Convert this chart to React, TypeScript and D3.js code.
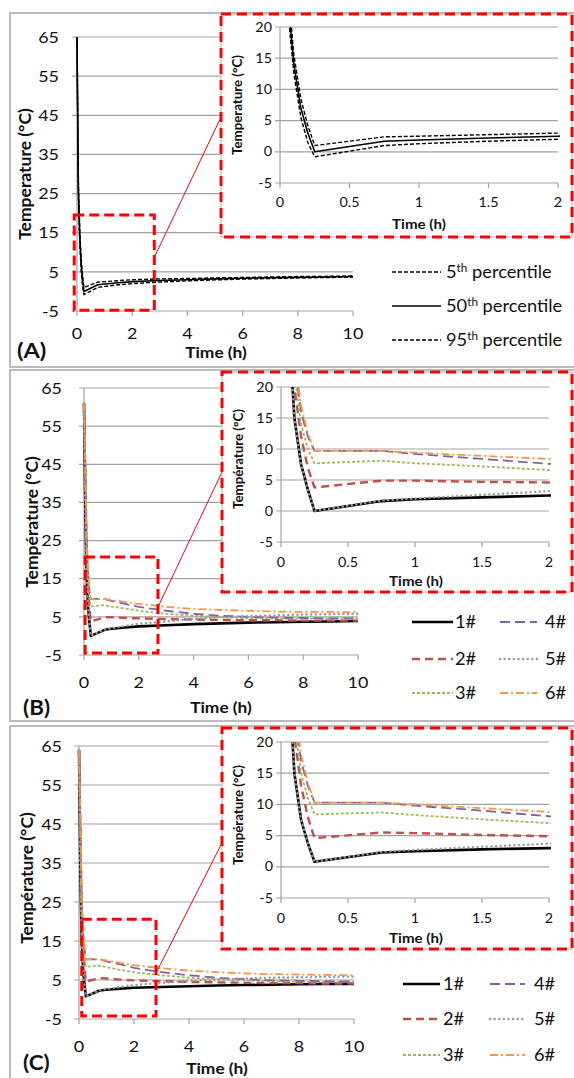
import React from "react";
import * as d3 from "d3";

// ---------- data ----------
const times = [0, 0.05, 0.1, 0.15, 0.2, 0.25, 0.75, 1, 1.5, 2, 3, 4, 5, 6, 7, 8, 9, 10];

const mainYTicks = [-5, 5, 15, 25, 35, 45, 55, 65];
const mainXTicks = [0, 2, 4, 6, 8, 10];
const insetYTicks = [-5, 0, 5, 10, 15, 20];
const insetXTicks = [0, 0.5, 1, 1.5, 2];

// Panel A: percentiles
const a5th = [64, 24, 12.5, 5.5, 1.5, -0.8, 1.0, 1.3, 1.7, 2.0, 2.4, 2.7, 2.95, 3.15, 3.3, 3.45, 3.55, 3.65];
const a50th = [65, 26, 14, 7, 3, 0, 1.7, 1.9, 2.2, 2.5, 2.8, 3.0, 3.2, 3.35, 3.5, 3.6, 3.7, 3.8];
const a95th = [65, 28, 15.5, 8.5, 4.2, 1.0, 2.4, 2.5, 2.75, 3.0, 3.2, 3.3, 3.45, 3.55, 3.7, 3.8, 3.85, 3.95];

// Panel B
const b1 = [61, 33, 15, 7.5, 3.5, 0, 1.6, 1.9, 2.2, 2.5, 2.8, 3.1, 3.3, 3.5, 3.6, 3.7, 3.8, 3.9];
const b2 = [61, 40, 20, 12, 7, 3.8, 4.9, 4.9, 4.7, 4.6, 4.4, 4.3, 4.2, 4.1, 4.1, 4.0, 4.0, 4.0];
const b3 = [60, 42, 22, 14, 10, 7.7, 8.1, 7.7, 7.2, 6.6, 5.8, 5.3, 4.9, 4.7, 4.6, 4.5, 4.5, 4.5];
const b4 = [61, 45, 24, 16, 12, 9.7, 9.7, 9.2, 8.4, 7.6, 6.6, 5.8, 5.3, 5.0, 4.8, 4.7, 4.6, 4.6];
const b5 = [61, 33, 15, 7.5, 3.5, 0, 1.7, 2.0, 2.6, 3.2, 3.8, 4.4, 4.9, 5.2, 5.4, 5.6, 5.7, 5.8];
const b6 = [61, 46, 25, 17, 12.5, 9.7, 9.7, 9.4, 8.9, 8.4, 7.6, 7.1, 6.8, 6.6, 6.4, 6.3, 6.3, 6.2];

// Panel C
const c1 = [64, 33, 15, 7.5, 3.8, 0.8, 2.3, 2.5, 2.8, 3.0, 3.2, 3.4, 3.6, 3.7, 3.8, 3.9, 4.0, 4.0];
const c2 = [64, 41, 21, 13, 8, 4.6, 5.5, 5.4, 5.1, 4.9, 4.7, 4.5, 4.4, 4.3, 4.2, 4.2, 4.1, 4.1];
const c3 = [63, 43, 23, 15, 11, 8.4, 8.7, 8.3, 7.6, 7.0, 6.2, 5.6, 5.2, 4.9, 4.7, 4.6, 4.5, 4.5];
const c4 = [64, 46, 25, 17, 13, 10.3, 10.3, 9.8, 9.0, 8.1, 7.0, 6.2, 5.6, 5.2, 4.9, 4.8, 4.7, 4.6];
const c5 = [64, 33, 15, 7.5, 3.8, 0.8, 2.4, 2.7, 3.2, 3.7, 4.3, 4.8, 5.1, 5.4, 5.6, 5.7, 5.8, 5.9];
const c6 = [64, 47, 26, 18, 13.5, 10.3, 10.3, 10.0, 9.4, 8.8, 8.0, 7.4, 7.0, 6.7, 6.5, 6.4, 6.3, 6.2];

const percentileNames = ["5", "50", "95"];
const caseNames = ["1#", "2#", "3#", "4#", "5#", "6#"];

// ---------- styles ----------
const FONT = "Lato, Carlito, 'Open Sans', sans-serif";
const GRID = "#a3a3a3";
const RED = "#ff0000";
const SX = 1.12;

type St = { color: string; width: number; dash?: string; cap?: string };
const pctStyles: St[] = [
  { color: "#000", width: 1.4, dash: "4,2" },
  { color: "#000", width: 1.6 },
  { color: "#000", width: 1.4, dash: "4,2" },
];
const caseStyles: St[] = [
  { color: "#000000", width: 2.6 },
  { color: "#C0504D", width: 2.4, dash: "8,5" },
  { color: "#9BBB59", width: 1.8, dash: "3,2" },
  { color: "#8064A2", width: 1.8, dash: "10,5" },
  { color: "#9a9a9a", width: 2.4, dash: "0.1,4.5", cap: "round" },
  { color: "#F79646", width: 1.8, dash: "8,3,2,3" },
];

type Layout = {
  id: string;
  border: [number, number, number, number];
  mx0: number; mx1: number; myTop: number; myBot: number; yLabGap: number;
  xLabY: number; xTitleX: number; xTitleY: number; yTitleX: number; yTitleY: number;
  zoom: [number, number, number, number];
  conn: [number, number, number, number];
  box: [number, number, number, number];
  ix0: number; ix1: number; iyTop: number; iyBot: number;
  ixLabY: number; ixTitleY: number; ixTitleX: number; iyTitleX: number; iyTitleY: number;
  tag: string; tagX: number; tagY: number; tagSize: number;
};

const layouts: Layout[] = [
  {
    id: "A", border: [10, 13, 590, 367],
    mx0: 77, mx1: 353, myTop: 37, myBot: 311, yLabGap: 18,
    xLabY: 339, xTitleX: 216, xTitleY: 358, yTitleX: 25, yTitleY: 174,
    zoom: [-0.1, 2.8, -4.8, 19.5], conn: [154, 258, 222, 115],
    box: [221, 14, 572, 237],
    ix0: 280, ix1: 558, iyTop: 27, iyBot: 183,
    ixLabY: 207, ixTitleY: 229, ixTitleX: 419, iyTitleX: 237, iyTitleY: 105,
    tag: "(A)", tagX: 17, tagY: 358, tagSize: 21,
  },
  {
    id: "B", border: [10, 370, 590, 721],
    mx0: 84, mx1: 358, myTop: 388, myBot: 655, yLabGap: 22,
    xLabY: 688, xTitleX: 221, xTitleY: 713, yTitleX: 32, yTitleY: 522,
    zoom: [0.04, 2.7, -4.5, 20.7], conn: [158, 607, 222, 472],
    box: [222, 372, 572, 592],
    ix0: 281, ix1: 549, iyTop: 387, iyBot: 542,
    ixLabY: 567, ixTitleY: 586, ixTitleX: 416, iyTitleX: 238, iyTitleY: 459,
    tag: "(B)", tagX: 23, tagY: 715, tagSize: 20,
  },
  {
    id: "C", border: [10, 726, 590, 1090],
    mx0: 79, mx1: 354, myTop: 746, myBot: 1019, yLabGap: 17,
    xLabY: 1052, xTitleX: 217, xTitleY: 1074, yTitleX: 27, yTitleY: 878,
    zoom: [0.1, 2.8, -4.2, 20.6], conn: [156, 973, 222, 843],
    box: [222, 728, 572, 949],
    ix0: 281, ix1: 549, iyTop: 742, iyBot: 898,
    ixLabY: 923, ixTitleY: 943, ixTitleX: 416, iyTitleX: 238, iyTitleY: 815,
    tag: "(C)", tagX: 23, tagY: 1070, tagSize: 20,
  },
];

type Ser = { values: number[]; st: St };

// horizontally stretched text (reference glyphs are wide)
function T({ x, y, size, bold, anchor, dy, children }: any) {
  return (
    <text
      transform={`translate(${x},${y}) scale(${SX},1)`}
      dy={dy}
      textAnchor={anchor || "start"}
      fontSize={size}
      fontWeight={bold ? "bold" : "normal"}
      fontFamily={FONT}
      fill="#111"
    >
      {children}
    </text>
  );
}

function RT({ x, y, size, children }: any) {
  return (
    <text
      transform={`translate(${x},${y}) rotate(-90)`}
      dy="0.36em"
      textAnchor="middle"
      fontSize={size}
      fontWeight="bold"
      fontFamily={FONT}
      fill="#111"
    >
      {children}
    </text>
  );
}

function Lines({ series, x, y, clip }: any) {
  const gen = d3
    .line<number>()
    .x((_, i) => x(times[i]))
    .y((d) => y(d));
  return (
    <g clipPath={`url(#${clip})`}>
      {series.map((s: Ser, i: number) => (
        <path
          key={i}
          d={gen(s.values) || ""}
          fill="none"
          stroke={s.st.color}
          strokeWidth={s.st.width}
          strokeDasharray={s.st.dash}
          strokeLinecap={(s.st.cap as any) || "butt"}
          strokeLinejoin="round"
        />
      ))}
    </g>
  );
}

function Panel({ L, series, yTitle, legend }: { L: Layout; series: Ser[]; yTitle: string; legend: React.ReactNode }) {
  const x = d3.scaleLinear().domain([0, 10]).range([L.mx0, L.mx1]);
  const y = d3.scaleLinear().domain([-5, 65]).range([L.myBot, L.myTop]);
  const xi = d3.scaleLinear().domain([0, 2]).range([L.ix0, L.ix1]);
  const yi = d3.scaleLinear().domain([-5, 20]).range([L.iyBot, L.iyTop]);
  const [bx0, by0, bx1, by1] = L.border;
  const [zx0, zx1, zy0, zy1] = L.zoom;
  const [b0, b1, b2, b3] = L.box;
  const clipM = `clipM${L.id}`;
  const clipI = `clipI${L.id}`;
  return (
    <g>
      <defs>
        <clipPath id={clipM}>
          <rect x={L.mx0 - 2} y={L.myTop - 2} width={L.mx1 - L.mx0 + 4} height={L.myBot - L.myTop + 4} />
        </clipPath>
        <clipPath id={clipI}>
          <rect x={L.ix0} y={L.iyTop} width={L.ix1 - L.ix0 + 2} height={L.iyBot - L.iyTop} />
        </clipPath>
      </defs>
      <rect x={bx0} y={by0} width={bx1 - bx0} height={by1 - by0} fill="#fff" stroke="#a6a6a6" strokeWidth={1.5} />

      {/* main plot */}
      {mainYTicks.map((t) => (
        <g key={t}>
          <line x1={L.mx0 - 5} x2={L.mx1} y1={y(t)} y2={y(t)} stroke={GRID} strokeWidth={1.2} />
          <T x={L.mx0 - L.yLabGap} y={y(t)} dy="0.36em" anchor="end" size={16}>
            {t}
          </T>
        </g>
      ))}
      <line x1={L.mx0} x2={L.mx0} y1={L.myTop} y2={L.myBot} stroke={GRID} strokeWidth={1.2} />
      {mainXTicks.map((t) => (
        <g key={t}>
          <line x1={x(t)} x2={x(t)} y1={L.myBot} y2={L.myBot + 5} stroke={GRID} strokeWidth={1.2} />
          <T x={x(t)} y={L.xLabY} anchor="middle" size={16}>
            {t}
          </T>
        </g>
      ))}
      <Lines series={series} x={x} y={y} clip={clipM} />
      <T x={L.xTitleX} y={L.xTitleY} anchor="middle" size={15.5} bold>
        Time (h)
      </T>
      <RT x={L.yTitleX} y={L.yTitleY} size={17.5}>
        {yTitle}
      </RT>
      <T x={L.tagX} y={L.tagY} size={L.tagSize} bold>
        {L.tag}
      </T>

      {/* zoom box and connector */}
      <rect
        x={x(zx0)}
        y={y(zy1)}
        width={x(zx1) - x(zx0)}
        height={y(zy0) - y(zy1)}
        fill="none"
        stroke={RED}
        strokeWidth={3}
        strokeDasharray="10,5"
      />
      <line x1={L.conn[0]} y1={L.conn[1]} x2={L.conn[2]} y2={L.conn[3]} stroke={RED} strokeWidth={1} />

      {/* inset */}
      <rect x={b0} y={b1} width={b2 - b0} height={b3 - b1} fill="#fff" stroke="#b0b0b0" strokeWidth={1} />
      {insetYTicks.map((t) => (
        <g key={t}>
          <line x1={L.ix0 - 5} x2={L.ix1} y1={yi(t)} y2={yi(t)} stroke={GRID} strokeWidth={1.2} />
          <T x={L.ix0 - 8} y={yi(t)} dy="0.36em" anchor="end" size={12.8}>
            {t}
          </T>
        </g>
      ))}
      <line x1={L.ix0} x2={L.ix0} y1={L.iyTop} y2={L.iyBot} stroke={GRID} strokeWidth={1.2} />
      {insetXTicks.map((t) => (
        <g key={t}>
          <line x1={xi(t)} x2={xi(t)} y1={L.iyBot} y2={L.iyBot + 5} stroke={GRID} strokeWidth={1.2} />
          <T x={xi(t)} y={L.ixLabY} anchor="middle" size={12.8}>
            {t}
          </T>
        </g>
      ))}
      <Lines series={series} x={xi} y={yi} clip={clipI} />
      <T x={L.ixTitleX} y={L.ixTitleY} anchor="middle" size={13.5} bold>
        Time (h)
      </T>
      <RT x={L.iyTitleX} y={L.iyTitleY} size={13.3}>
        {yTitle}
      </RT>
      <rect
        x={b0}
        y={b1}
        width={b2 - b0}
        height={b3 - b1}
        fill="none"
        stroke={RED}
        strokeWidth={3}
        strokeDasharray="10,6"
      />
      {legend}
    </g>
  );
}

function LegendLine({ x1, x2, yy, st }: { x1: number; x2: number; yy: number; st: St }) {
  return (
    <line
      x1={x1}
      x2={x2}
      y1={yy}
      y2={yy}
      stroke={st.color}
      strokeWidth={st.width}
      strokeDasharray={st.dash}
      strokeLinecap={(st.cap as any) || "butt"}
    />
  );
}

function LegendA() {
  const rows = [272, 306, 340];
  return (
    <g>
      {percentileNames.map((n, i) => (
        <g key={n}>
          <LegendLine x1={392} x2={441} yy={rows[i]} st={pctStyles[i]} />
          <T x={446} y={rows[i] + 5.5} size={16.3}>
            {n}
            <tspan dy={-6} fontSize={10.5}>
              th
            </tspan>
            <tspan dy={6}> percentile</tspan>
          </T>
        </g>
      ))}
    </g>
  );
}

function LegendCases({ rows, c1, c2 }: { rows: number[]; c1: [number, number, number]; c2: [number, number, number] }) {
  return (
    <g>
      {caseNames.map((n, i) => {
        const col = i < 3 ? c1 : c2;
        const r = rows[i % 3];
        return (
          <g key={n}>
            <LegendLine x1={col[0]} x2={col[1]} yy={r} st={caseStyles[i]} />
            <T x={col[2]} y={r + 6} size={16.3}>
              {n}
            </T>
          </g>
        );
      })}
    </g>
  );
}

export default function App() {
  const serA: Ser[] = [a5th, a50th, a95th].map((v, i) => ({ values: v, st: pctStyles[i] }));
  const serB: Ser[] = [b1, b2, b3, b4, b5, b6].map((v, i) => ({ values: v, st: caseStyles[i] }));
  const serC: Ser[] = [c1, c2, c3, c4, c5, c6].map((v, i) => ({ values: v, st: caseStyles[i] }));
  return (
    <div style={{ position: "absolute", left: 0, top: 0 }}>
      <svg width={574} height={1078} style={{ display: "block", background: "#fff" }}>
        <rect width={574} height={1078} fill="#fff" />
        <Panel L={layouts[0]} series={serA} yTitle="Temperature (°C)" legend={<LegendA />} />
        <Panel
          L={layouts[1]}
          series={serB}
          yTitle="Température (°C)"
          legend={<LegendCases rows={[622, 659, 693]} c1={[412, 453, 455]} c2={[500, 537, 545]} />}
        />
        <Panel
          L={layouts[2]}
          series={serC}
          yTitle="Température (°C)"
          legend={<LegendCases rows={[984, 1019, 1055]} c1={[403, 440, 443]} c2={[490, 525, 534]} />}
        />
      </svg>
    </div>
  );
}
